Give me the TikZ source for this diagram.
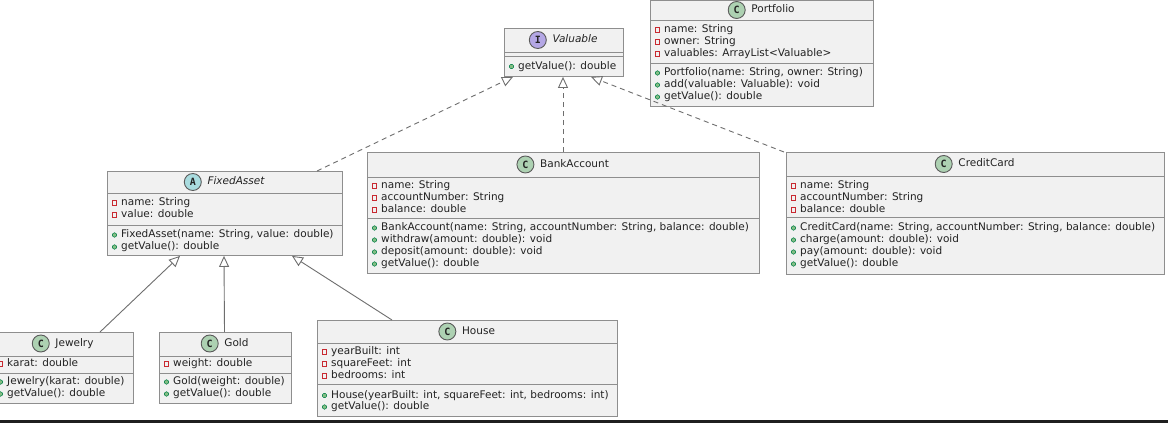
\documentclass[tikz,border=0pt]{standalone}
\usepackage{fontspec}
\setmainfont{DejaVu Sans}
\newfontfamily\glyphfont{DejaVu Sans Mono}
\usetikzlibrary{arrows.meta,calc}
\definecolor{boxc}{HTML}{F1F1F1}
\definecolor{bordc}{HTML}{8E8E8E}
\definecolor{txtc}{HTML}{222222}
\definecolor{linec}{HTML}{6E6E6E}
\definecolor{privc}{HTML}{C82930}
\definecolor{pubc}{HTML}{84BE84}
\definecolor{pubdc}{HTML}{038048}
\definecolor{cbadge}{HTML}{ADD1B2}
\definecolor{ibadge}{HTML}{B4A7E5}
\definecolor{abadge}{HTML}{A9DCDF}
\definecolor{badgeb}{HTML}{5A5A5A}
\tikzset{
  umlbox/.style={rectangle, draw=bordc, fill=boxc, line width=0.9pt, inner sep=0pt, anchor=north west},
  sepline/.style={draw=bordc, line width=0.9pt},
  row/.style={anchor=mid west, inner sep=0pt, font=\fontsize{10.5}{12}\selectfont, text=txtc},
  ttl/.style={anchor=mid, inner sep=0pt, font=\fontsize{10.5}{12}\selectfont, text=txtc},
  ittl/.style={anchor=mid, inner sep=0pt, font=\fontsize{10.5}{12}\selectfont\itshape, text=txtc},
  privb/.style={draw=privc, line width=0.7pt},
  pubb/.style={fill=pubc, draw=pubdc, line width=0.3pt},
  badge/.style={circle, draw=badgeb, line width=0.9pt, minimum size=17pt, inner sep=0pt, text=txtc, font=\glyphfont\bfseries\fontsize{10}{10}\selectfont},
  realize/.style={draw=linec, line width=0.9pt, dash pattern=on 5pt off 4pt, -{Triangle[open, length=11pt, width=10pt]}},
  extend/.style={draw=linec, line width=0.9pt, -{Triangle[open, length=11pt, width=10pt]}},
}
% #1 name, #2 left, #3 top, #4 right, #5 bottom, #6 separators
\newcommand\umlbox[6]{%
  \node[umlbox, minimum width={(#4)*1pt-(#2)*1pt}, minimum height={(#5)*1pt-(#3)*1pt}] (#1) at (#2,#3) {};
  \foreach \s in {#6} {\draw[sepline] (#2,\s) -- (#4,\s);}
}
% #1 id, #2 center x, #3 y, #4 letter, #5 badge colour, #6 title style, #7 title
\newcommand\hdr[7]{%
  \node[#6] (#1t) at ({#2+11.5},#3) {#7};
  \node[badge, fill=#5] (#1c) at ($(#1t.mid west)+(-14.5,0)$) {#4};
}
% #1 id, #2 left, #3 y, #4 text
\newcommand\attr[4]{%
  \draw[privb] ({#2+5.3},{#3-2.2}) rectangle ++(4.4,4.4);
  \node[row] (#1) at ({#2+14},#3) {#4};
}
\newcommand\meth[4]{%
  \fill[pubb] ({#2+7.5},#3) circle[radius=2.2pt];
  \draw[pubb, fill=none] ({#2+7.5},#3) circle[radius=2.2pt];
  \node[row] (#1) at ({#2+14},#3) {#4};
}
\begin{document}
\begin{tikzpicture}[x=1pt,y=-1pt]
\fill[white] (0,0) rectangle (1168,423);
\useasboundingbox (0,0) rectangle (1168,423);

% Portfolio
\umlbox{port}{650}{0}{873}{106}{20,63.5}
\hdr{port}{761.5}{10}{C}{cbadge}{ttl}{Portfolio}
\attr{p1}{650}{30}{name: String}
\attr{p2}{650}{42}{owner: String}
\attr{p3}{650}{54}{valuables: ArrayList<Valuable>}
\meth{p4}{650}{73}{Portfolio(name: String, owner: String)}
\meth{p5}{650}{85}{add(valuable: Valuable): void}
\meth{p6}{650}{97}{getValue(): double}

% Valuable
\umlbox{val}{504}{28}{623}{76}{52,56}
\hdr{val}{563.5}{40}{I}{ibadge}{ittl}{Valuable}
\meth{v1}{504}{66.5}{getValue(): double}

% FixedAsset
\umlbox{fixed}{107}{171}{342}{255}{193,225}
\hdr{fixed}{224.5}{182}{A}{abadge}{ittl}{FixedAsset}
\attr{f1}{107}{203}{name: String}
\attr{f2}{107}{215}{value: double}
\meth{f3}{107}{235}{FixedAsset(name: String, value: double)}
\meth{f4}{107}{247}{getValue(): double}

% BankAccount
\umlbox{bank}{367}{152}{759}{273}{177,218}
\hdr{bank}{563}{164.5}{C}{cbadge}{ttl}{BankAccount}
\attr{b1}{367}{186}{name: String}
\attr{b2}{367}{198}{accountNumber: String}
\attr{b3}{367}{210}{balance: double}
\meth{b4}{367}{228}{BankAccount(name: String, accountNumber: String, balance: double)}
\meth{b5}{367}{240}{withdraw(amount: double): void}
\meth{b6}{367}{252}{deposit(amount: double): void}
\meth{b7}{367}{264}{getValue(): double}

% CreditCard
\umlbox{credit}{786}{152}{1164}{274}{176.5,217.5}
\hdr{credit}{975}{164}{C}{cbadge}{ttl}{CreditCard}
\attr{c1}{786}{186}{name: String}
\attr{c2}{786}{198}{accountNumber: String}
\attr{c3}{786}{210}{balance: double}
\meth{c4}{786}{228}{CreditCard(name: String, accountNumber: String, balance: double)}
\meth{c5}{786}{240}{charge(amount: double): void}
\meth{c6}{786}{252}{pay(amount: double): void}
\meth{c7}{786}{264}{getValue(): double}

% Jewelry
\umlbox{jewel}{-7}{332}{133}{403}{356,373}
\hdr{jewel}{63}{343.5}{C}{cbadge}{ttl}{Jewelry}
\attr{j1}{-7}{364}{karat: double}
\meth{j2}{-7}{382}{Jewelry(karat: double)}
\meth{j3}{-7}{394}{getValue(): double}

% Gold
\umlbox{gold}{159}{332}{291}{403}{356,373}
\hdr{gold}{225}{343.5}{C}{cbadge}{ttl}{Gold}
\attr{g1}{159}{364}{weight: double}
\meth{g2}{159}{382}{Gold(weight: double)}
\meth{g3}{159}{394}{getValue(): double}

% House
\umlbox{house}{317}{320}{617}{416}{343,384}
\hdr{house}{467}{331.5}{C}{cbadge}{ttl}{House}
\attr{h1}{317}{352}{yearBuilt: int}
\attr{h2}{317}{364}{squareFeet: int}
\attr{h3}{317}{376}{bedrooms: int}
\meth{h4}{317}{395.5}{House(yearBuilt: int, squareFeet: int, bedrooms: int)}
\meth{h5}{317}{407}{getValue(): double}

% connectors
\draw[realize] ($(fixed.north west)+(210,0)$) -- ($(val.south west)+(9,0)$);
\draw[realize] ($(bank.north west)+(196,0)$) -- ($(val.south west)+(59,0)$);
\draw[realize] ($(credit.north west)+(-2,0)$) -- ($(val.south west)+(87,0)$);
\draw[extend] ($(jewel.north west)+(107,0)$) -- ($(fixed.south west)+(73,0)$);
\draw[extend] ($(gold.north west)+(65.5,0)$) -- ($(fixed.south west)+(117,0)$);
\draw[extend] ($(house.north west)+(75,0)$) -- ($(fixed.south west)+(185,0)$);

% bottom edge band
\fill[black!88] (0,419.5) rectangle (1168,423);
\end{tikzpicture}
\end{document}
